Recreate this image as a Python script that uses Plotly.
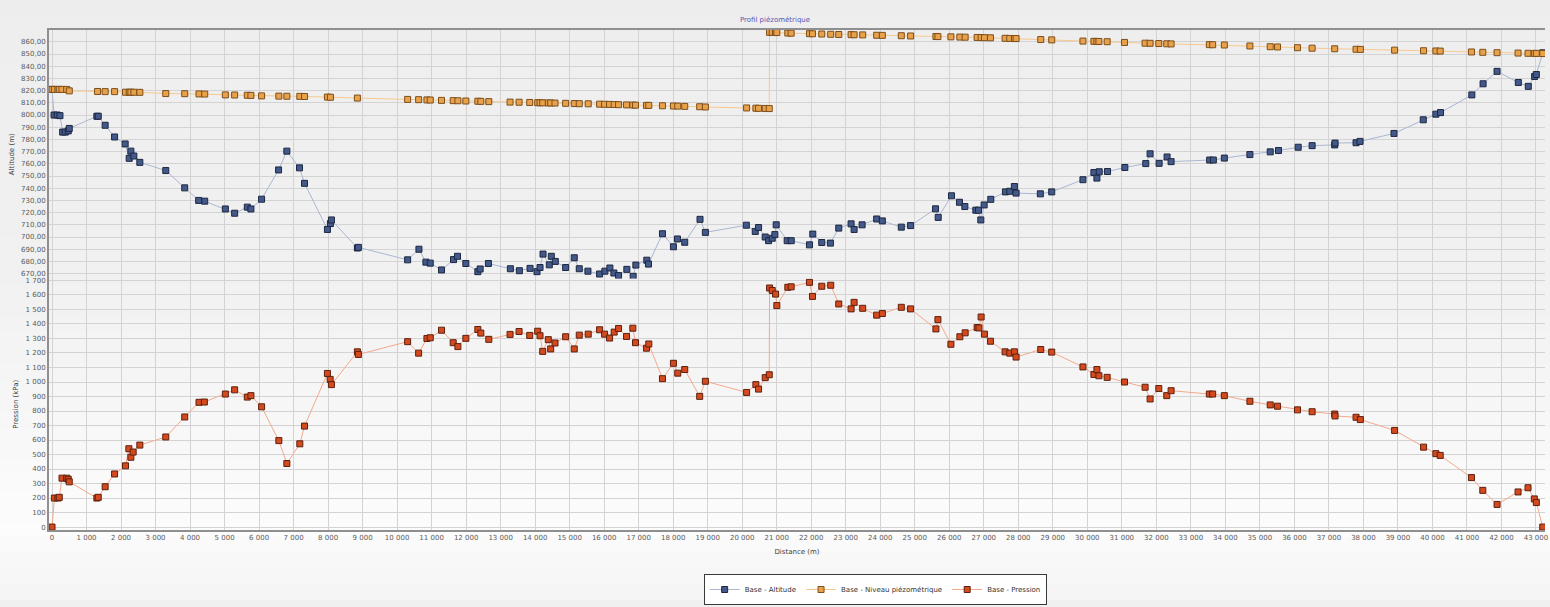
import plotly.graph_objects as go

# ---- Profil le long de la conduite (distance en m) ----
alt_dist = [0, 60, 150, 230, 309, 385, 470, 500, 1300, 1340, 1540, 1813, 2120, 2237, 2285, 2372,
            2545, 3297, 3846, 4250, 4425, 5023, 5292, 5659, 5764, 6073, 6565, 6805, 7172, 7317,
            7981, 8068, 8097, 8849, 8878, 10305, 10633, 10835, 10960, 11287, 11634, 11750, 11992,
            12339, 12406, 12646, 13282, 13543, 13852, 14054, 14141, 14228, 14410, 14468, 14584,
            14883, 15133, 15278, 15529, 15867, 16021, 16166, 16282, 16417, 16657, 16840, 16918,
            17235, 17284, 17689, 18007, 18123, 18334, 18777, 18933, 20119, 20378, 20474, 20667,
            20763, 20870, 20946, 20985, 21303, 21420, 21949, 22045, 22305, 22556, 22797, 23155,
            23242, 23474, 23896, 24060, 24610, 24879, 25602, 25679, 26064, 26296, 26451, 26769,
            26846, 26914, 27010, 27203, 27627, 27753, 27887, 27936, 28638, 28968, 29873, 30191,
            30278, 30345, 30586, 31087, 31694, 31819, 32080, 32311, 32427, 33545, 33652, 33970,
            34711, 35300, 35540, 36110, 36514, 37168, 37178, 37787, 37903, 38886, 39734, 40100,
            40234, 41142, 41468, 41873, 42489, 42778, 42961, 43011, 43196]
alt_m = [821, 800, 800, 799.5, 786, 786, 787, 789, 799, 799, 791.6, 782, 776.3, 764.5, 770.4, 766.4,
         761.2, 754.5, 740.3, 730, 729.4, 723, 719.5, 724.5, 723, 731, 755, 770.4, 756.7, 744,
         706.2, 711, 714, 691, 691.5, 681.3, 690, 679.4, 678.6, 673, 681.5, 684.2, 678.3,
         671.6, 673.8, 678.3, 674, 672.4, 674.3, 671.6, 675, 686, 677.2, 684.2, 680,
         675, 683, 674, 672, 669.7, 672, 674.6, 670.5, 668.4, 673.5, 667.8, 677,
         681, 677.8, 702.7, 692, 698.4, 695.7, 714.5, 703.8, 709.7, 704.6, 707.8, 700,
         697, 699, 702, 710, 697, 697, 693.6, 702.4, 695.5, 695, 707.3, 710.8,
         706.2, 710, 714.8, 713.2, 708.1, 709.4, 723.1, 716.1, 733.8, 728.5, 725, 722,
         722, 714, 726.3, 730.9, 737, 737.5, 741.4, 736, 735.4, 737, 747, 752.9,
         748.3, 753.5, 753.7, 757, 760.2, 768.2, 760.4, 765.6, 761.8, 763.1, 763.1, 764.7,
         767.6, 769.8, 770.9, 773.6, 774.9, 775.5, 777, 777.3, 778.4, 784.9, 796.1, 800.7,
         802, 816.5, 825.6, 835.8, 826.7, 823.5, 831.6, 833.2, 851]

pres_dist = [0, 70, 170, 210, 290, 425, 470, 500, 1300, 1340, 1540, 1813, 2130, 2227, 2285, 2352,
             2545, 3297, 3846, 4260, 4415, 5023, 5292, 5659, 5764, 6073, 6573, 6805, 7181, 7317,
             7981, 8060, 8097, 8849, 8878, 10305, 10623, 10864, 10960, 11287, 11625, 11761, 11992,
             12339, 12425, 12657, 13273, 13534, 13843, 14074, 14141, 14219, 14381, 14450, 14575,
             14883, 15133, 15278, 15538, 15867, 16012, 16156, 16290, 16417, 16648, 16830, 16908,
             17226, 17293, 17689, 18007, 18132, 18334, 18768, 18933, 20127, 20396, 20474, 20667,
             20783, 20792, 20870, 20966, 21003, 21321, 21418, 21949, 22036, 22305, 22565, 22797,
             23155, 23242, 23491, 23896, 24060, 24610, 24879, 25613, 25671, 26047, 26307, 26460,
             26807, 26860, 26923, 27019, 27193, 27618, 27753, 27887, 27936, 28650, 28968, 29873,
             30191, 30278, 30336, 30575, 31078, 31674, 31819, 32071, 32302, 32427, 33536, 33632,
             33970, 34711, 35300, 35512, 36090, 36514, 37168, 37178, 37787, 37912, 38904, 39743,
             40100, 40225, 41131, 41460, 41873, 42481, 42770, 42953, 43011, 43196]
pres_kpa = [0, 200, 200, 205, 337, 337, 330, 312, 200, 205, 278, 366, 422, 540, 481, 517,
            565, 621, 759, 860, 862, 917, 946, 896, 906, 829, 596, 438, 574, 696,
            1059, 1018, 982, 1208, 1190, 1278, 1199, 1300, 1305, 1357, 1271, 1244, 1301,
            1362, 1337, 1294, 1328, 1348, 1321, 1350, 1319, 1211, 1292, 1228, 1269,
            1312, 1228, 1323, 1330, 1360, 1330, 1303, 1344, 1369, 1314, 1371, 1271,
            1233, 1262, 1023, 1129, 1061, 1086, 901, 1005, 928, 982, 951, 1030,
            1050, 1648, 1631, 1606, 1527, 1653, 1656, 1687, 1590, 1660, 1667, 1538,
            1504, 1549, 1508, 1461, 1472, 1515, 1504, 1366, 1430, 1260, 1312, 1339,
            1375, 1373, 1448, 1330, 1281, 1208, 1199, 1208, 1172, 1224, 1206, 1104,
            1052, 1086, 1043, 1032, 1000, 964, 883, 955, 906, 940, 917, 917,
            906, 867, 842, 833, 808, 795, 779, 766, 757, 741, 666, 551,
            506, 494, 341, 253, 156, 242, 271, 194, 169, 0]

piezo_dist = [0, 70, 170, 210, 290, 425, 500, 1320, 1540, 1813, 2130, 2237, 2285, 2372, 2545,
              3297, 3846, 4260, 4425, 5023, 5292, 5659, 5764, 6073, 6573, 6805, 7181, 7317,
              7981, 8068, 8849, 10305, 10623, 10864, 10960, 11287, 11625, 11761, 11992, 12339,
              12425, 12657, 13273, 13534, 13843, 14074, 14141, 14219, 14381, 14450, 14575,
              14883, 15133, 15278, 15538, 15867, 16012, 16156, 16290, 16417, 16648, 16830,
              16908, 17226, 17293, 17689, 18007, 18132, 18334, 18768, 18933, 20127, 20396,
              20474, 20667, 20783, 20792, 20870, 20966, 21003, 21321, 21418, 21949, 22036,
              22305, 22565, 22797, 23155, 23242, 23491, 23896, 24060, 24610, 24879, 25613,
              25671, 26047, 26307, 26460, 26807, 26923, 27019, 27193, 27618, 27753, 27887,
              27936, 28650, 28968, 29873, 30191, 30278, 30336, 30575, 31078, 31674, 31819,
              32071, 32302, 32427, 33536, 33632, 33970, 34711, 35300, 35512, 36090, 36514,
              37168, 37787, 37912, 38904, 39743, 40100, 40225, 41131, 41460, 41873, 42481,
              42770, 42953, 43011, 43196]
piezo_m = [821, 821, 821, 821, 821, 821, 819.8, 819.3, 819.2, 819.2, 818.7, 818.7, 818.7, 818.7, 818.6,
           817.6, 817.5, 817.3, 817.2, 816.5, 816.4, 816.2, 816.1, 815.7, 815.5, 815.4, 815.3, 815.2,
           814.7, 814.6, 813.9, 812.8, 812.6, 812.4, 812.3, 812.0, 811.8, 811.7, 811.5, 811.3,
           811.2, 811.0, 810.6, 810.5, 810.3, 810.1, 810.1, 810.0, 809.9, 809.9, 809.8,
           809.6, 809.4, 809.3, 809.2, 808.9, 808.8, 808.7, 808.6, 808.5, 808.3, 808.2,
           808.1, 807.9, 807.9, 807.6, 807.4, 807.3, 807.1, 806.8, 806.6, 805.8, 805.6,
           805.5, 805.4, 805.3, 867.8, 867.8, 867.7, 867.6, 867.2, 867.1, 866.7, 866.6,
           866.4, 866.2, 866.0, 865.9, 865.8, 865.7, 865.4, 865.3, 865.0, 864.8, 864.4,
           864.3, 864.1, 863.9, 863.8, 863.6, 863.5, 863.4, 863.3, 862.9, 862.8, 862.7,
           862.7, 861.9, 861.6, 860.6, 860.4, 860.3, 860.3, 860.1, 859.5, 858.9, 858.8,
           858.6, 858.4, 858.3, 857.7, 857.6, 857.4, 856.6, 856.0, 855.8, 855.2, 854.8,
           854.3, 853.9, 853.8, 853.2, 852.7, 852.5, 852.4, 851.7, 851.4, 851.1, 850.8,
           850.6, 850.5, 850.5, 850.4]

FONT = "DejaVu Sans"
TICK_COLOR = "#5a5a5a"
GRID = "#d3d3d3"
FRAME = "#8f8f8f"

fig = go.Figure()


def series(x, y, name, fill, edge, line, yaxis):
    return go.Scatter(
        x=x, y=y, name=name, mode="lines+markers", yaxis=yaxis,
        xaxis="x" if yaxis == "y" else "x2",
        line=dict(color=line, width=1),
        marker=dict(symbol="square", size=6, color=fill, line=dict(color=edge, width=1)),
    )


fig.add_trace(series(alt_dist, alt_m, "Base - Altitude", "#43598a", "#1d2740", "#aab6d2", "y2"))
fig.add_trace(series(piezo_dist, piezo_m, "Base - Niveau piézométrique", "#e9a24c", "#7d4e1a", "#f7c88e", "y2"))
fig.add_trace(series(pres_dist, pres_kpa, "Base - Pression", "#d34a1f", "#5e200e", "#f2a98c", "y"))

# soft vertical background gradient behind both panels
stops = [(1.12, (235, 235, 235)), (1.0, (238, 238, 238)), (0.5, (241, 241, 241)),
         (0.0, (252, 252, 252)), (-0.14, (244, 244, 244))]
n = 40
shapes = []
for i in range(n):
    y0 = stops[0][0] + (stops[-1][0] - stops[0][0]) * i / n
    y1 = stops[0][0] + (stops[-1][0] - stops[0][0]) * (i + 1) / n
    ym = (y0 + y1) / 2
    for (a, ca), (b, cb) in zip(stops[:-1], stops[1:]):
        if b <= ym <= a:
            t = (a - ym) / (a - b)
            c = tuple(round(ca[k] + (cb[k] - ca[k]) * t) for k in range(3))
            break
    shapes.append(dict(type="rect", xref="paper", yref="paper", x0=-0.05, x1=1.05,
                       y0=y1, y1=y0, fillcolor="rgb(%d,%d,%d)" % c, line=dict(width=0),
                       layer="below"))

xcommon = dict(range=[-87, 43262], dtick=1000, tick0=0, gridcolor=GRID, gridwidth=1,
               zeroline=False, tickformat=",", ticklabeloverflow="allow",
               tickfont=dict(family=FONT, size=7, color=TICK_COLOR))

fig.update_layout(
    width=1550, height=607,
    margin=dict(l=49, r=2, t=30, b=68),
    paper_bgcolor="#f0f0f0",
    plot_bgcolor="rgba(0,0,0,0)",
    separators=", ",
    shapes=shapes,
    font=dict(family=FONT, size=7, color="#404040"),
    title=dict(text="Profil piézométrique", x=0.5, xanchor="center", xref="container",
               y=0.967, yref="container", yanchor="middle",
               font=dict(family=FONT, size=7, color="#5656b0")),
    xaxis=dict(**xcommon, anchor="y", showline=True, linecolor=FRAME, linewidth=2,
               title=dict(text="Distance (m)", standoff=8,
                          font=dict(family=FONT, size=7, color="#404040"))),
    xaxis2=dict(**xcommon, anchor="y2", matches="x", side="top", showticklabels=False,
                showline=True, linecolor=FRAME, linewidth=1.5),
    yaxis=dict(domain=[0, 0.503], range=[-20.3, 1713.5], dtick=100, tick0=0, tickformat=",",
               gridcolor=GRID, zeroline=False, showline=True, linecolor=FRAME, linewidth=2,
               tickfont=dict(family=FONT, size=7, color=TICK_COLOR),
               title=dict(text="Pression (kPa)", standoff=6,
                          font=dict(family=FONT, size=7, color="#404040"))),
    yaxis2=dict(domain=[0.503, 1], range=[666, 869.7], dtick=10, tick0=670, tickformat=",.2f",
                gridcolor=GRID, zeroline=False, showline=True, linecolor=FRAME, linewidth=2,
                tickfont=dict(family=FONT, size=7, color=TICK_COLOR),
                title=dict(text="Altitude (m)", standoff=6,
                           font=dict(family=FONT, size=7, color="#404040"))),
    legend=dict(orientation="h", x=0.4376, xanchor="left", y=-0.088, yanchor="top",
                bgcolor="#ffffff", bordercolor="#3a3a3a", borderwidth=1,
                font=dict(family=FONT, size=7, color="#333333"),
                itemwidth=30, tracegroupgap=0),
    showlegend=True,
)

fig.write_html("out.html")
